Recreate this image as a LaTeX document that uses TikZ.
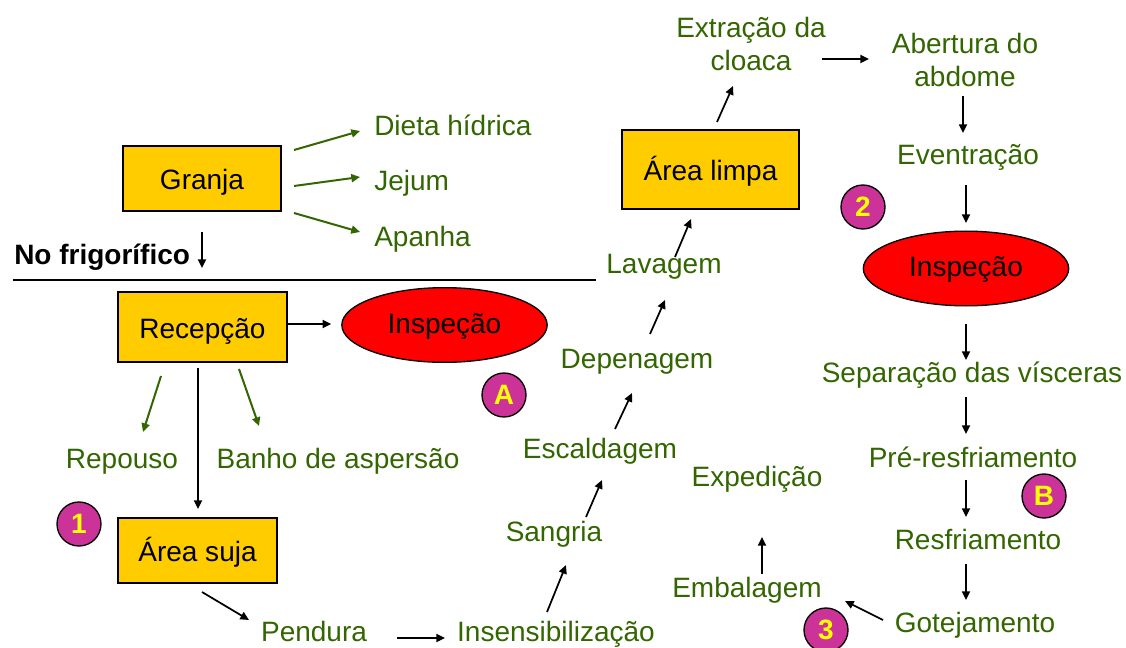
\documentclass[tikz,border=0pt]{standalone}
\usepackage{fontspec}
\setmainfont{Liberation Sans}
\usetikzlibrary{calc,arrows.meta,shapes.geometric}
\definecolor{tgreen}{RGB}{51,102,0}
\definecolor{boxy}{RGB}{255,204,0}
\definecolor{mag}{RGB}{204,51,153}
\definecolor{ylw}{RGB}{255,255,0}
\tikzset{
  every node/.style={font=\fontsize{21}{24.75}\selectfont},
  txt/.style={text=tgreen, inner sep=0pt, align=center},
  txa/.style={text=tgreen, inner sep=0pt, text height=16.5pt, text depth=4.5pt},
  ybox/.style={draw=black, line width=1.2pt, fill=boxy, inner sep=0pt,
    text height=17.2pt, text depth=0pt},
  redell/.style={ellipse, draw=black, line width=1pt, fill=red, inner sep=0pt,
    minimum width=154pt, minimum height=56pt, text height=16.5pt, text depth=4.5pt},
  badge/.style={circle, draw=black, line width=1pt, fill=mag, text=ylw,
    minimum size=33pt, inner sep=0pt, font=\fontsize{21}{24}\selectfont\bfseries},
  arr/.style={draw=black, line width=1.3pt, -{Triangle[length=6.5pt,width=6pt]}},
  garr/.style={draw=tgreen, line width=1.5pt, -{Triangle[length=6.5pt,width=6pt]}}
}
\begin{document}
\begin{tikzpicture}[x=0.75pt,y=-0.75pt]
\useasboundingbox (0,0) rectangle (1126,648);

% boxes
\node[ybox, minimum width=118.5pt, minimum height=48.75pt] (granja) at (202,178.5) {Granja};
\node[ybox, minimum width=126.75pt, minimum height=52.5pt] (recep) at (202.5,327) {Recepção};
\node[ybox, minimum width=119.25pt, minimum height=48.75pt] (suja) at (197.5,550.5) {Área suja};
\node[ybox, minimum width=132.75pt, minimum height=59.25pt] (limpa) at (710.5,169.5) {Área limpa};

% ellipses
\node[redell] (inspA) at (444.5,325) {Inspeção};
\node[redell] (inspB) at (966,268.5) {Inspeção};

% badges
\node[badge] (bA) at (504,395) {A};
\node[badge] (b1) at (79,524) {1};
\node[badge] (b2) at (863,207) {2};
\node[badge] (bB) at (1044,496) {B};
\node[badge] (b3) at (826,630) {3};

% texts
\node[txa, anchor=west] (dieta) at (374,128) {Dieta hídrica};
\node[txa, anchor=west] (jejum) at (374,183) {Jejum};
\node[txa, anchor=west] (apanha) at (374,239) {Apanha};
\node[inner sep=0pt, anchor=west, text height=16.5pt, text depth=4.5pt, font=\fontsize{21}{24}\selectfont\bfseries] (nofrig) at (14,257) {No frigorífico};
\node[txa] (repouso) at (122,460) {Repouso};
\node[txa] (banho) at (338,460) {Banho de aspersão};
\node[txa] (pendura) at (314,633) {Pendura};
\node[txa] (insens) at (556,633) {Insensibilização};
\node[txa] (sangria) at (554,533) {Sangria};
\node[txa] (escald) at (600,450) {Escaldagem};
\node[txa] (depen) at (637,360) {Depenagem};
\node[txa] (lavagem) at (664,265) {Lavagem};
\node[txt] (extracao) at (751,43.5) {Extração da\\cloaca};
\node[txt] (abertura) at (965,60) {Abertura do\\abdome};
\node[txa] (eventr) at (968,157) {Eventração};
\node[txa] (separ) at (972,374) {Separação das vísceras};
\node[txa] (pre) at (973,459) {Pré-resfriamento};
\node[txa] (resfr) at (978,541) {Resfriamento};
\node[txa] (gotej) at (975,624) {Gotejamento};
\node[txa] (expedicao) at (757,478) {Expedição};
\node[txa] (embal) at (747,589) {Embalagem};

% separator line
\draw[line width=1.1pt] (13,280) -- (596,280);

% green arrows
\draw[garr] ($(granja)+(92,-28.5)$) -- ($(dieta.west)+(-14,3)$);
\draw[garr] ($(granja)+(92,7.5)$) -- ($(jejum.west)+(-14,-6)$);
\draw[garr] ($(granja)+(92,34.5)$) -- ($(apanha.west)+(-14,-7)$);
\draw[garr] ($(recep)+(-41.5,49)$) -- ($(repouso)+(21,-28)$);
\draw[garr] ($(recep)+(36.5,42)$) -- ($(banho)+(-79,-34)$);

% black arrows
\draw[arr] ($(granja)+(0,53.5)$) -- ($(granja)+(0,89.5)$);
\draw[arr] ($(recep.east)+(0,-3)$) -- ($(inspA.west)+(-10,-1)$);
\draw[arr] ($(recep)+(-4.5,41)$) -- ($(suja)+(0.5,-41.5)$);
\draw[arr] ($(suja)+(4.5,41.5)$) -- ($(pendura)+(-65,-13)$);
\draw[arr] ($(pendura)+(83,5)$) -- ($(insens)+(-111,5)$);
\draw[arr] ($(insens)+(-9,-21)$) -- ($(sangria)+(12,32)$);
\draw[arr] ($(sangria)+(32,-16)$) -- ($(escald)+(2,30)$);
\draw[arr] ($(escald)+(15,-21)$) -- ($(depen)+(-5,33)$);
\draw[arr] ($(depen)+(13,-26)$) -- ($(lavagem)+(1,35)$);
\draw[arr] ($(lavagem)+(11,-8)$) -- ($(limpa)+(-19.5,49.5)$);
\draw[arr] ($(limpa)+(6.5,-47.5)$) -- ($(extracao)+(-18,42.5)$);
\draw[arr] ($(extracao)+(71,15.5)$) -- ($(abertura)+(-96,-1)$);
\draw[arr] ($(abertura)+(-2,36)$) -- ($(eventr)+(-5,-24)$);
\draw[arr] ($(eventr)+(-2,28)$) -- ($(inspB)+(0,-45.5)$);
\draw[arr] ($(inspB)+(0,55.5)$) -- ($(separ)+(-6,-14)$);
\draw[arr] ($(separ)+(-6,23)$) -- ($(pre)+(-7,-25)$);
\draw[arr] ($(pre)+(-7,21)$) -- ($(resfr)+(-12,-24)$);
\draw[arr] ($(resfr)+(-12,23)$) -- ($(gotej)+(-9,-24)$);
\draw[arr] ($(gotej)+(-92,-4)$) -- ($(embal)+(98,12)$);
\draw[arr] ($(embal)+(15,-15)$) -- ($(expedicao)+(5,59)$);
\end{tikzpicture}
\end{document}
